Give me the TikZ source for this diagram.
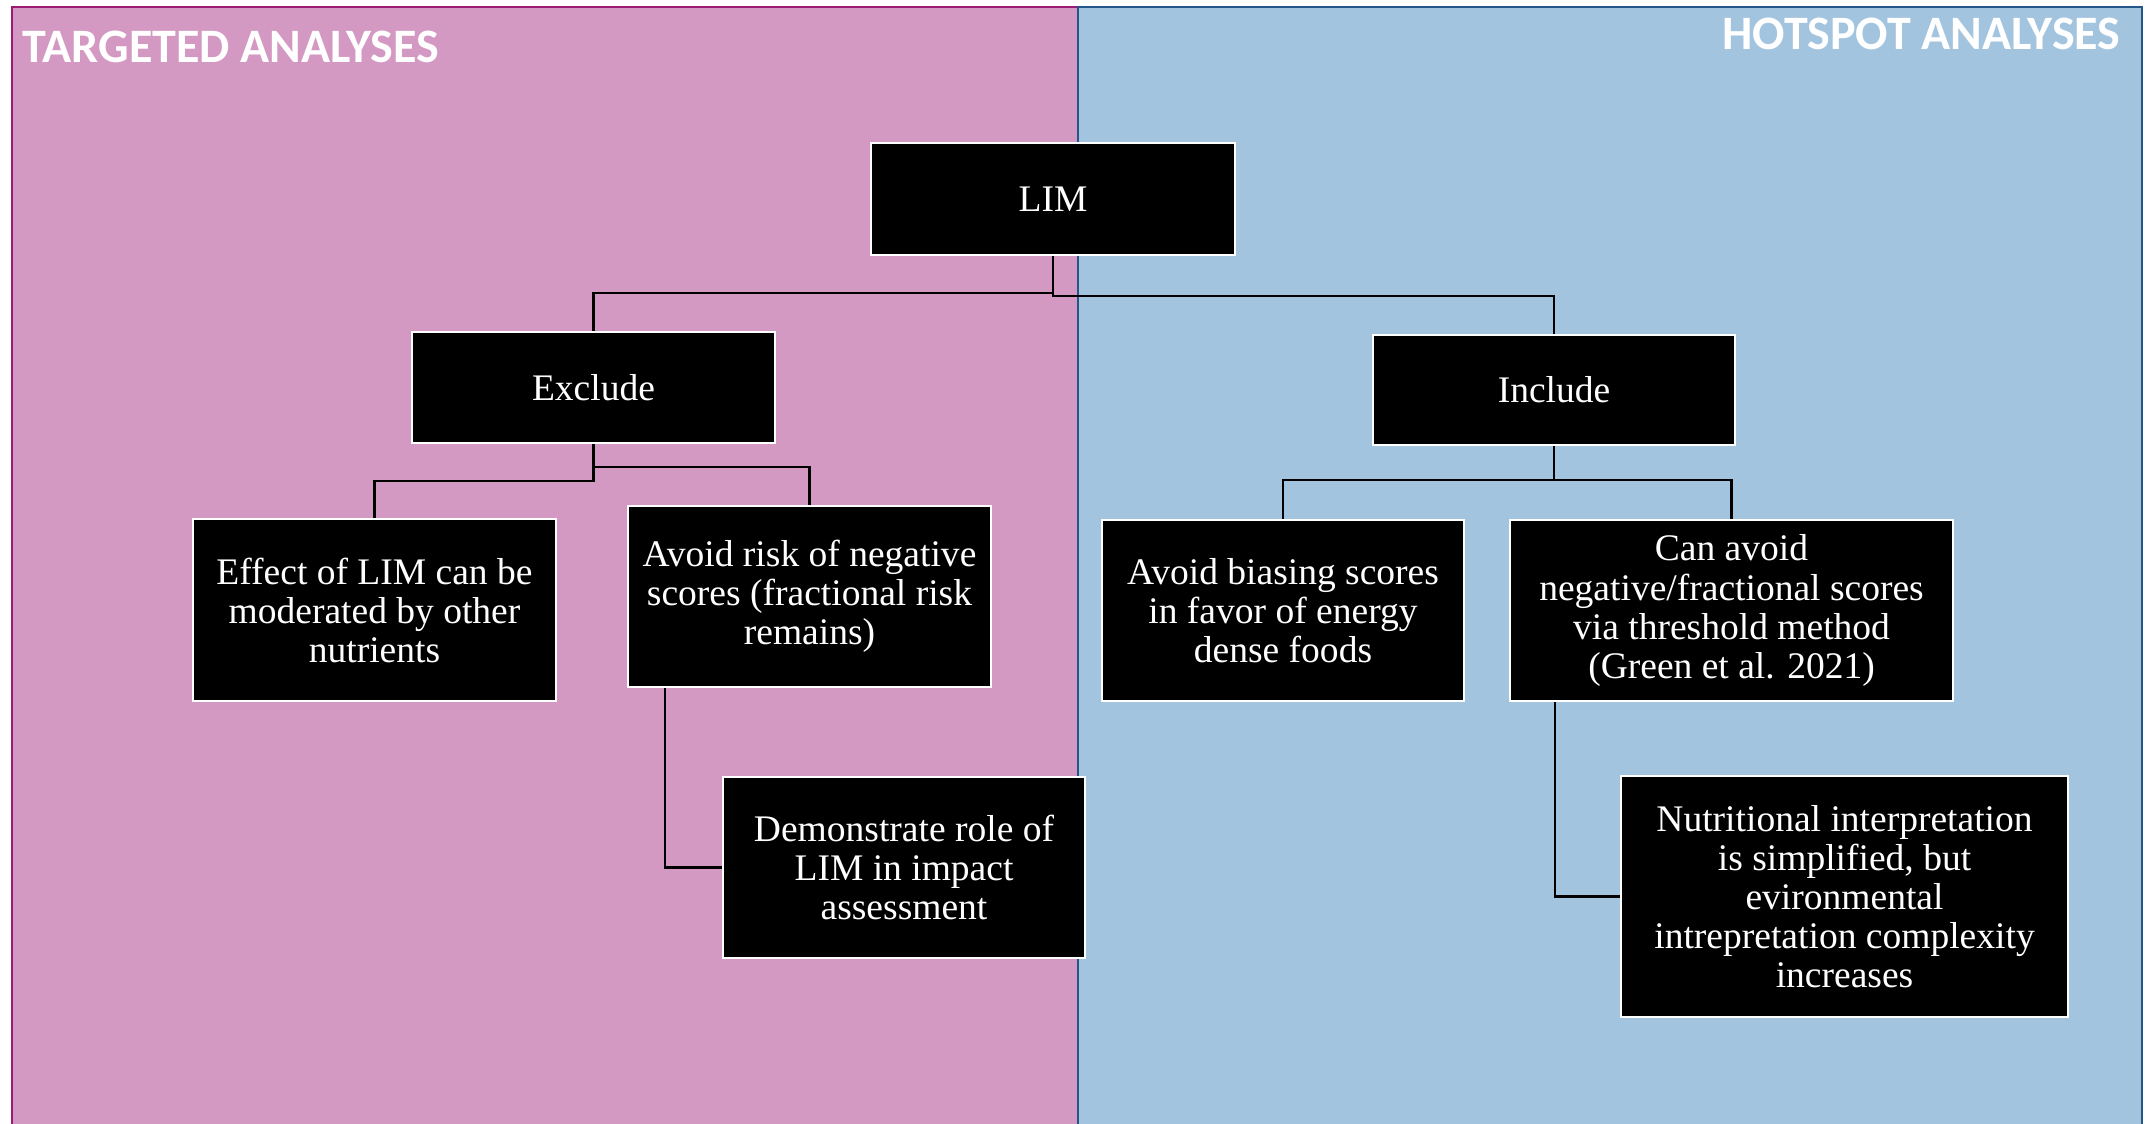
\documentclass[tikz,border=0pt]{standalone}
\usepackage{fontspec}
\setmainfont{Liberation Serif}
\newfontfamily\titlefont{Carlito}
\usetikzlibrary{calc}

\definecolor{pinkfill}{HTML}{D499C3}
\definecolor{pinkedge}{HTML}{9B1B74}
\definecolor{bluefill}{HTML}{A3C4DF}
\definecolor{blueedge}{HTML}{24568A}

\tikzset{
  decision/.style={draw=white, line width=2.4pt*0.2845, fill=black, text=white,
    inner sep=0pt, align=center,
    font=\fontsize{10.67pt}{11.1pt}\selectfont},
  conn/.style={draw=black, line width=2.2pt*0.2845},
  paneltitle/.style={text=white, inner sep=0pt,
    font=\titlefont\bfseries\fontsize{13.65pt}{15pt}\selectfont}
}

\begin{document}
\begin{tikzpicture}[x=0.01cm, y=-0.01cm]
  \useasboundingbox (0,0) rectangle (2146,1123);
  \fill[white] (0,0) rectangle (2146,1123);

  % the two analysis panels
  \draw[fill=pinkfill, draw=pinkedge, line width=0.8pt] (12,7) rectangle (1078,1130);
  \draw[fill=bluefill, draw=blueedge, line width=0.8pt] (1078,7) rectangle (2142,1130);

  \node[paneltitle, anchor=base west] (ttarget) at (22,62) {TARGETED ANALYSES};
  \node[paneltitle, anchor=base east] (thot) at (2121,49) {HOTSPOT ANALYSES};

  % decision boxes
  \node[decision, minimum width=3.64cm, minimum height=1.12cm] (lim) at (1053,199) {LIM};
  \node[decision, minimum width=3.63cm, minimum height=1.11cm] (excl) at (593.5,387.5) {Exclude};
  \node[decision, minimum width=3.62cm, minimum height=1.10cm] (incl) at (1554,390) {Include};

  \node[decision, minimum width=3.63cm, minimum height=1.82cm] (effect) at (374.5,610)
    {Effect of LIM can be\\moderated by other\\nutrients};
  \node[decision, minimum width=3.63cm, minimum height=1.81cm] (avoidrisk) at (809.5,596.5)
    {Avoid risk of negative\\scores (fractional risk\\remains)};
  \node[decision, minimum width=3.62cm, minimum height=1.81cm] (demo) at (904,867.5)
    {Demonstrate role of\\LIM in impact\\assessment};

  \node[decision, minimum width=3.62cm, minimum height=1.81cm] (bias) at (1283,610.5)
    {Avoid biasing scores\\in favor of energy\\dense foods};
  \node[decision, minimum width=4.43cm, minimum height=1.81cm] (canavoid) at (1731.5,610.5)
    {Can avoid\\negative/fractional scores\\via threshold method\\(Green et al. 2021)};
  \node[decision, minimum width=4.47cm, minimum height=2.41cm] (nutri) at (1844.5,896.5)
    {Nutritional interpretation\\is simplified, but\\evironmental\\intrepretation complexity\\increases};

  % elbow connectors
  \draw[conn] (lim.south) |- (excl.north |- 0,293) -- (excl.north);
  \draw[conn] (lim.south) |- (incl.north |- 0,296) -- (incl.north);

  \draw[conn] (excl.south) |- (effect.north |- 0,481) -- (effect.north);
  \draw[conn] (excl.south) |- (avoidrisk.north |- 0,467) -- (avoidrisk.north);

  \draw[conn] (incl.south) |- (bias.north |- 0,480) -- (bias.north);
  \draw[conn] (incl.south) |- (canavoid.north |- 0,480) -- (canavoid.north);

  \draw[conn] (avoidrisk.south -| 665,0) |- (demo.west);
  \draw[conn] (canavoid.south -| 1555,0) |- (nutri.west);
\end{tikzpicture}
\end{document}
